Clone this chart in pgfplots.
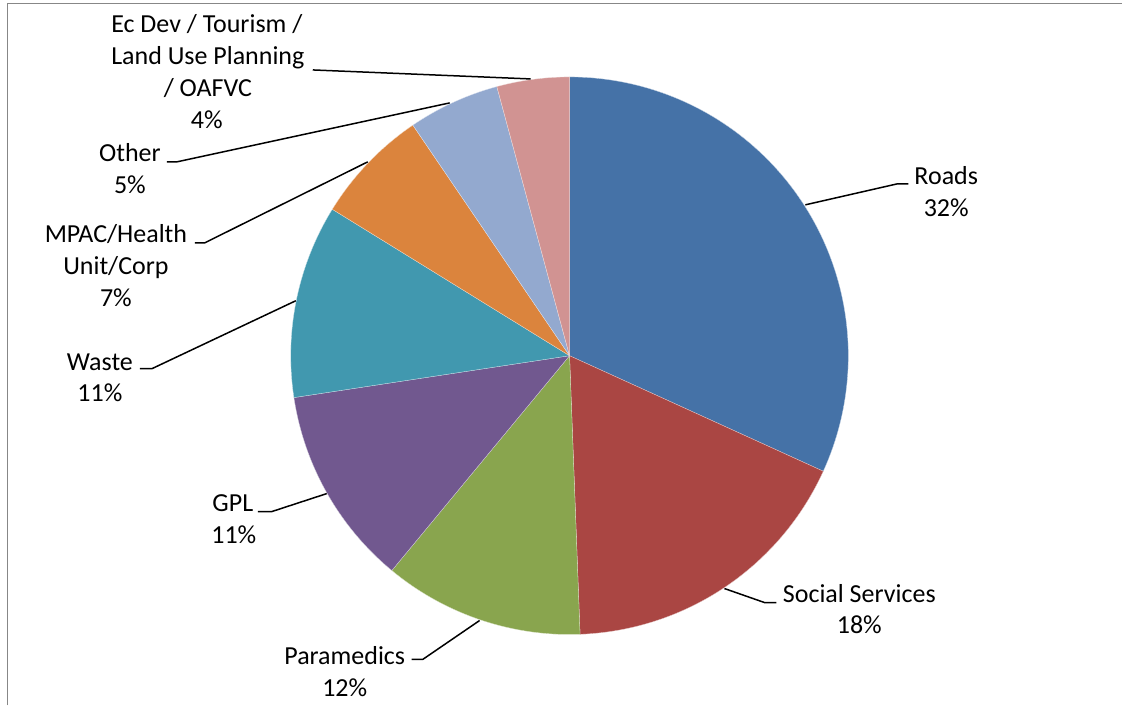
\documentclass[border=0pt]{standalone}
\usepackage{pgfplots}
\pgfplotsset{compat=1.18}
\usepackage{fontspec}
\setmainfont{Carlito}

% shares (percent), clockwise from 12 o'clock
\def\sRoads{31.8}
\def\sSocial{17.6}
\def\sPara{11.6}
\def\sGPL{11.6}
\def\sWaste{11.2}
\def\sMPAC{6.7}
\def\sOther{5.3}
\def\sEcDev{4.2}

\pgfmathsetmacro{\aA}{90}
\pgfmathsetmacro{\aB}{\aA-3.6*\sRoads}
\pgfmathsetmacro{\aC}{\aB-3.6*\sSocial}
\pgfmathsetmacro{\aD}{\aC-3.6*\sPara}
\pgfmathsetmacro{\aE}{\aD-3.6*\sGPL}
\pgfmathsetmacro{\aF}{\aE-3.6*\sWaste}
\pgfmathsetmacro{\aG}{\aF-3.6*\sMPAC}
\pgfmathsetmacro{\aH}{\aG-3.6*\sOther}
\pgfmathsetmacro{\aI}{\aH-3.6*\sEcDev}

\def\cx{570}
\def\cy{350}
\def\R{279}

\definecolor{cRoads}{HTML}{4572A7}
\definecolor{cSocial}{HTML}{AA4643}
\definecolor{cPara}{HTML}{89A54E}
\definecolor{cGPL}{HTML}{71588F}
\definecolor{cWaste}{HTML}{4198AF}
\definecolor{cMPAC}{HTML}{DB843D}
\definecolor{cOther}{HTML}{93A9CF}
\definecolor{cEcDev}{HTML}{D19392}
\definecolor{frame}{HTML}{878787}

\newcommand{\slice}[3]{%
  \addplot[fill=#3, draw=white!70!#3, line width=0.3pt, domain=#1:#2, samples=90, variable=\t]
    ({\cx+\R*cos(\t)},{\cy+\R*sin(\t)}) -- (axis cs:\cx,\cy) -- cycle;
}

\begin{document}
\begin{tikzpicture}[lbl/.style={anchor=base, inner sep=0pt, font=\fontsize{26}{32}\selectfont}]
\begin{axis}[
  scale only axis, width=1123pt, height=706pt,
  xmin=0, xmax=1123, ymin=0, ymax=706,
  axis lines=none, clip=false,
]
\addplot[draw=none] coordinates {(0,0) (1123,706)};
% frame (top and left edges)
\addplot[frame, line width=1.8pt] coordinates {(7.5,0) (7.5,702.5) (1123,702.5)};

% pie slices
\slice{\aB}{\aA}{cRoads}
\slice{\aC}{\aB}{cSocial}
\slice{\aD}{\aC}{cPara}
\slice{\aE}{\aD}{cGPL}
\slice{\aF}{\aE}{cWaste}
\slice{\aG}{\aF}{cMPAC}
\slice{\aH}{\aG}{cOther}
\slice{\aI}{\aH}{cEcDev}

% leader lines
\addplot[black, line width=1.5pt] coordinates {(806,501) (898,522) (909,522)};
\addplot[black, line width=1.5pt] coordinates {(725,117) (765,103) (777,103)};
\addplot[black, line width=1.5pt] coordinates {(480,85) (423,46) (412,46)};
\addplot[black, line width=1.5pt] coordinates {(327,212) (272,194) (258,194)};
\addplot[black, line width=1.5pt] coordinates {(296,405) (152,337) (140,337)};
\addplot[black, line width=1.5pt] coordinates {(368,544) (205,463) (195,463)};
\addplot[black, line width=1.5pt] coordinates {(450,603) (177,544) (167,544)};
\addplot[black, line width=1.5pt] coordinates {(531,627) (313,636)};

% labels
\node[lbl] at (axis cs:947,521) {Roads};
\node[lbl] at (axis cs:947,489) {32\%};
\node[lbl] at (axis cs:860,103) {Social Services};
\node[lbl] at (axis cs:860,72) {18\%};
\node[lbl] at (axis cs:345,41) {Paramedics};
\node[lbl] at (axis cs:345,9) {12\%};
\node[lbl] at (axis cs:233,194) {GPL};
\node[lbl] at (axis cs:234,162) {11\%};
\node[lbl] at (axis cs:100,335) {Waste};
\node[lbl] at (axis cs:100,304) {11\%};
\node[lbl] at (axis cs:116,463) {MPAC/Health};
\node[lbl] at (axis cs:116,431) {Unit/Corp};
\node[lbl] at (axis cs:116,399) {7\%};
\node[lbl] at (axis cs:130,544) {Other};
\node[lbl] at (axis cs:130,512) {5\%};
\node[lbl] at (axis cs:207,673) {Ec Dev / Tourism /};
\node[lbl] at (axis cs:208,641) {Land Use Planning};
\node[lbl] at (axis cs:208,609) {/ OAFVC};
\node[lbl] at (axis cs:207,577) {4\%};
\end{axis}
\end{tikzpicture}
\end{document}
